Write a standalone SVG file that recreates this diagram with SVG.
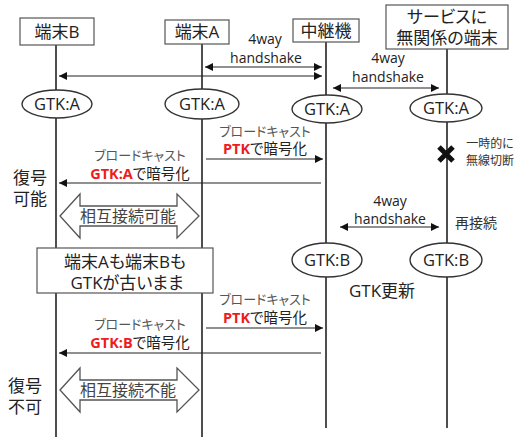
<svg xmlns="http://www.w3.org/2000/svg" width="523" height="439" viewBox="0 0 523 439">
<defs>
<marker id="ah" viewBox="0 0 10 10" refX="10" refY="5" markerWidth="8" markerHeight="8" markerUnits="userSpaceOnUse" orient="auto-start-reverse">
<path d="M0,0 L10,5 L0,10 Z" fill="#111"/>
</marker>
<style>
text{font-family:"Open Sans","Noto Sans CJK JP",sans-serif;fill:#222;font-feature-settings:"palt";}
.box{fill:#fff;stroke:#555;stroke-width:1.2;}
.life{stroke:#222;stroke-width:1.6;fill:none;}
.ell{fill:#fff;stroke:#333;stroke-width:1.4;}
.msg{stroke:#222;stroke-width:1.1;fill:none;}
.blk{fill:#fff;stroke:#555;stroke-width:1.3;}
.t18{font-size:17px;}
.gtk{font-size:16.5px;}
.lbl{font-size:14.5px;}
.hs{font-size:14px;}
.gr{fill:#555;font-size:13px;}
.red{fill:#ee1c1c;font-weight:bold;}
.sm{font-size:12px;fill:#333;}
</style>
</defs>

<g id="lifelines">
<line class="life" x1="56" y1="45" x2="56" y2="437"/>
<line class="life" x1="202" y1="44" x2="202" y2="437"/>
<line class="life" x1="326" y1="42" x2="326" y2="428"/>
<line class="life" x1="447" y1="49" x2="447" y2="428" stroke="#555"/>
</g>

<g id="node-termB">
<rect class="box" x="20" y="18" width="74" height="27"/>
<text class="t18" x="57" y="38" text-anchor="middle">端末B</text>
</g>
<g id="node-termA">
<rect class="box" x="165" y="20" width="64" height="24"/>
<text class="t18" x="197" y="38" text-anchor="middle">端末A</text>
</g>
<g id="node-relay">
<rect class="box" x="293" y="19" width="66" height="23"/>
<text class="t18" x="326" y="37" text-anchor="middle">中継機</text>
</g>
<g id="node-other">
<rect class="box" x="386" y="5" width="122" height="44"/>
<text class="t18" x="447" y="23" text-anchor="middle">サービスに</text>
<text class="t18" x="447" y="44" text-anchor="middle">無関係の端末</text>
</g>

<g id="connectors">
<line class="msg" x1="205" y1="67" x2="322" y2="67" marker-start="url(#ah)" marker-end="url(#ah)"/>
<line class="msg" x1="59" y1="76" x2="322" y2="76" marker-start="url(#ah)" marker-end="url(#ah)"/>
<line class="msg" x1="333" y1="88" x2="439" y2="88" marker-start="url(#ah)" marker-end="url(#ah)"/>
<line class="msg" x1="206" y1="159" x2="323" y2="159" marker-end="url(#ah)"/>
<line class="msg" x1="321" y1="183" x2="59" y2="183" marker-end="url(#ah)"/>
<line class="msg" x1="340" y1="227" x2="439" y2="227" marker-start="url(#ah)" marker-end="url(#ah)"/>
<line class="msg" x1="206" y1="328" x2="323" y2="328" marker-end="url(#ah)"/>
<line class="msg" x1="321" y1="353" x2="59" y2="353" marker-end="url(#ah)"/>
</g>

<g id="labels-handshake">
<text class="hs" x="265" y="44" text-anchor="middle">4way</text>
<text class="hs" x="266" y="63" text-anchor="middle">handshake</text>
<text class="hs" x="388" y="63" text-anchor="middle">4way</text>
<text class="hs" x="388" y="82" text-anchor="middle">handshake</text>
<text class="hs" x="390" y="206" text-anchor="middle">4way</text>
<text class="hs" x="390" y="224" text-anchor="middle">handshake</text>
</g>

<g id="gtk-row1">
<ellipse class="ell" cx="57" cy="104" rx="35" ry="14"/>
<text class="gtk" x="57" y="110" text-anchor="middle">GTK:A</text>
<ellipse class="ell" cx="202" cy="104" rx="37" ry="15"/>
<text class="gtk" x="202" y="110" text-anchor="middle">GTK:A</text>
<ellipse class="ell" cx="327" cy="109" rx="35" ry="14"/>
<text class="gtk" x="327" y="115" text-anchor="middle">GTK:A</text>
<ellipse class="ell" cx="446" cy="108" rx="36" ry="14"/>
<text class="gtk" x="446" y="114" text-anchor="middle">GTK:A</text>
</g>

<g id="broadcast1">
<text class="gr" x="265" y="136" text-anchor="middle">ブロードキャスト</text>
<text class="lbl" x="265" y="154" text-anchor="middle"><tspan class="red">PTK</tspan>で暗号化</text>
<text class="gr" x="140" y="160" text-anchor="middle">ブロードキャスト</text>
<text class="lbl" x="140" y="179" text-anchor="middle"><tspan class="red">GTK:A</tspan>で暗号化</text>
</g>

<g id="decode-ok">
<text class="t18" x="30" y="184" text-anchor="middle">復号</text>
<text class="t18" x="30" y="205" text-anchor="middle">可能</text>
</g>

<g id="mutual-ok">
<path class="blk" d="M60,216 L80,194 L80,206 L177,206 L177,194 L199,216 L177,238 L177,226 L80,226 L80,238 Z"/>
<text x="128" y="222" text-anchor="middle" style="font-size:16px;fill:#444">相互接続可能</text>
</g>

<g id="disconnect">
<path d="M439,147 L453,161 M453,147 L439,161" stroke="#111" stroke-width="5"/>
<text class="sm" x="490" y="148" text-anchor="middle">一時的に</text>
<text class="sm" x="490" y="165" text-anchor="middle">無線切断</text>
<text class="sm" x="476" y="228" text-anchor="middle" style="font-size:14px">再接続</text>
</g>

<g id="node-stale">
<rect class="box" x="37" y="248" width="176" height="45"/>
<text class="t18" x="125" y="268" text-anchor="middle">端末Aも端末Bも</text>
<text class="t18" x="127" y="289" text-anchor="middle">GTKが古いまま</text>
</g>

<g id="gtk-row2">
<ellipse class="ell" cx="327" cy="260" rx="35" ry="17"/>
<text class="gtk" x="327" y="266" text-anchor="middle">GTK:B</text>
<ellipse class="ell" cx="446" cy="260" rx="36" ry="17"/>
<text class="gtk" x="446" y="266" text-anchor="middle">GTK:B</text>
<text class="t18" x="382" y="297" text-anchor="middle">GTK更新</text>
</g>

<g id="broadcast2">
<text class="gr" x="265" y="304" text-anchor="middle">ブロードキャスト</text>
<text class="lbl" x="265" y="323" text-anchor="middle"><tspan class="red">PTK</tspan>で暗号化</text>
<text class="gr" x="140" y="329" text-anchor="middle">ブロードキャスト</text>
<text class="lbl" x="140" y="348" text-anchor="middle"><tspan class="red">GTK:B</tspan>で暗号化</text>
</g>

<g id="decode-ng">
<text class="t18" x="25" y="392" text-anchor="middle">復号</text>
<text class="t18" x="25" y="413" text-anchor="middle">不可</text>
</g>

<g id="mutual-ng">
<path class="blk" d="M60,390 L80,368 L80,380 L177,380 L177,368 L199,390 L177,412 L177,400 L80,400 L80,412 Z"/>
<text x="128" y="396" text-anchor="middle" style="font-size:16px;fill:#444">相互接続不能</text>
</g>
</svg>
